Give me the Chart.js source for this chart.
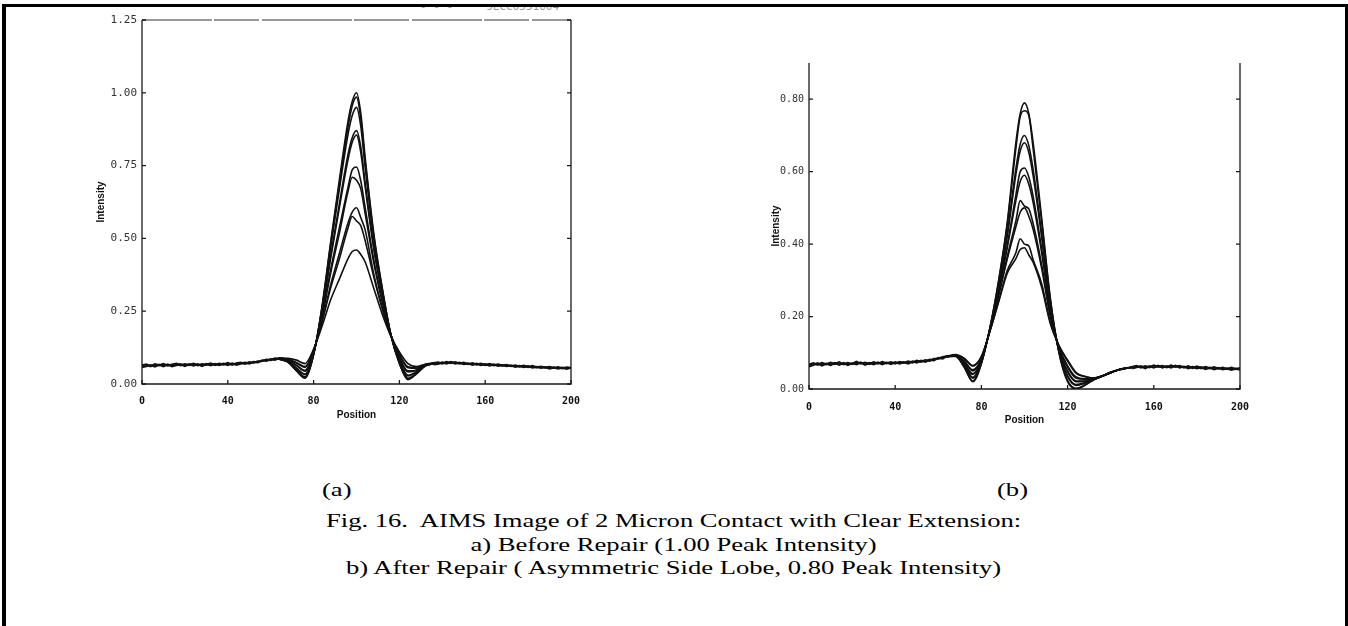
<!DOCTYPE html>
<html>
<head>
<meta charset="utf-8">
<script src="https://cdn.jsdelivr.net/npm/chart.js@4.4.1/dist/chart.umd.min.js"></script>
<style>
  body { margin: 0; background: #fff; width: 1348px; height: 626px; overflow: hidden; position: relative; }
  #frame { position: absolute; left: 2px; top: 4px; width: 1346px; height: 700px; box-sizing: border-box;
           border-top: 3px solid #000; border-left: 4px solid #000; border-right: 3px solid #000; }
  .box { position: absolute; top: 0; }
  .cap { position: absolute; left: 0; width: 1348px; text-align: center; font-family: "Liberation Serif", serif;
         font-size: 19px; line-height: 23px; color: #000; transform: scaleX(1.4); transform-origin: 675px 0; white-space: pre; }
  .lab { position: absolute; font-family: "Liberation Serif", serif; font-size: 19px; line-height: 23px;
         transform: scaleX(1.4); transform-origin: 0 0; }
  #stamp { position: absolute; left: 420px; top: 7px; width: 160px; height: 6px; overflow: hidden; }
  #stamp span { position: absolute; top: -7px; left: 0; font-family: "DejaVu Sans Mono", monospace; font-size: 11px; color: #999; white-space: pre; }
</style>
</head>
<body>
<div id="frame"></div>
<div id="stamp"><span>- - -     9LCC0551004</span></div>
<div class="box" style="left:60px"><canvas id="chartA" width="540" height="430"></canvas></div>
<div class="box" style="left:740px"><canvas id="chartB" width="540" height="430"></canvas></div>
<div class="lab" style="left:322px; top:478px">(a)</div>
<div class="lab" style="left:997px; top:478px">(b)</div>
<div class="cap" style="top:509px">Fig. 16.  AIMS Image of 2 Micron Contact with Clear Extension:</div>
<div class="cap" style="top:533px">a) Before Repair (1.00 Peak Intensity)</div>
<div class="cap" style="top:556px">b) After Repair ( Asymmetric Side Lobe, 0.80 Peak Intensity)</div>

<script>
// ---- chart (a): before repair ----
const flatLeftPos = [0,2,4,6,8,10,12,14,16,18,20,22,24,26,28,30,32,34,36,38,40,42,44,46,48,50,52,54,56,58,60,62,64];
const aLeft1 = [.064,.067,.061,.068,.064,.069,.063,.067,.070,.064,.068,.065,.070,.064,.068,.066,.071,.065,.070,.067,.072,.066,.071,.073,.069,.075,.073,.078,.079,.084,.082,.088,.086];
const aLeft2 = [.058,.061,.065,.060,.066,.061,.067,.061,.065,.068,.062,.068,.063,.068,.062,.069,.064,.069,.065,.070,.065,.071,.066,.070,.073,.070,.076,.074,.081,.079,.085,.083,.089];

const aRightPos = [136,138,140,142,144,146,148,150,152,154,156,158,160,162,164,166,168,170,172,174,176,178,180,182,184,186,188,190,192,194,196,198,200];
const aRight1 = [.072,.074,.070,.076,.072,.075,.070,.073,.068,.072,.067,.070,.065,.069,.064,.067,.063,.066,.061,.064,.060,.063,.058,.062,.057,.060,.056,.059,.055,.058,.054,.057,.055];
const aRight2 = [.067,.069,.074,.070,.076,.070,.073,.068,.071,.066,.070,.065,.068,.063,.067,.062,.065,.061,.064,.059,.062,.058,.061,.056,.059,.055,.058,.053,.057,.053,.056,.052,.056];

const aMidPos = [64,68,72,76,80,84,88,92,96,98,100,102,104,108,112,116,120,124,128,132,136];
const aPeaks = [
  [.085,.075,.045,.020,.100,.270,.490,.700,.900,.970,1.00,.930,.780,.520,.330,.170,.070,.015,.035,.062,.070],
  [.085,.076,.047,.022,.101,.267,.482,.686,.881,.955,.985,.911,.766,.512,.326,.170,.072,.017,.036,.062,.070],
  [.085,.076,.048,.025,.102,.263,.471,.668,.856,.922,.950,.885,.747,.502,.322,.170,.074,.020,.037,.063,.070],
  [.086,.078,.054,.032,.105,.253,.442,.618,.787,.846,.870,.813,.693,.474,.308,.169,.080,.028,.041,.063,.070],
  [.086,.079,.055,.034,.106,.250,.434,.605,.769,.830,.855,.795,.680,.467,.305,.169,.081,.030,.042,.064,.071],
  [.087,.081,.063,.044,.110,.236,.394,.536,.674,.735,.745,.697,.607,.429,.287,.168,.089,.041,.047,.065,.071],
  [.088,.082,.065,.047,.111,.232,.383,.517,.660,.710,.700,.670,.587,.418,.282,.167,.091,.045,.048,.065,.071],
  [.089,.085,.072,.057,.115,.218,.342,.448,.552,.590,.605,.571,.530,.379,.263,.166,.100,.056,.054,.066,.071],
  [.089,.085,.074,.060,.116,.214,.331,.429,.535,.575,.560,.544,.493,.369,.258,.166,.102,.059,.055,.067,.072],
  [.090,.088,.082,.070,.120,.200,.290,.360,.430,.455,.460,.445,.420,.330,.240,.165,.110,.070,.060,.068,.072]
];

// ---- chart (b): after repair ----
const bLeft1 = [.067,.071,.067,.072,.068,.073,.069,.074,.068,.072,.069,.075,.070,.073,.069,.074,.070,.075,.071,.074,.070,.075,.072,.076,.073,.078,.075,.080,.078,.083,.084,.088,.090];
const bLeft2 = [.062,.066,.071,.065,.070,.066,.072,.067,.072,.066,.071,.068,.073,.067,.072,.068,.073,.068,.073,.069,.074,.070,.074,.070,.076,.073,.078,.075,.081,.079,.086,.084,.091];

const bRightPos = [150,152,154,156,158,160,162,164,166,168,170,172,174,176,178,180,182,184,186,188,190,192,194,196,198,200];
const bRight1 = [.061,.064,.059,.063,.060,.065,.061,.064,.060,.065,.061,.064,.059,.063,.058,.062,.057,.061,.057,.060,.056,.059,.055,.059,.055,.058];
const bRight2 = [.057,.060,.063,.057,.063,.059,.064,.059,.063,.059,.064,.059,.062,.057,.061,.057,.060,.055,.059,.054,.058,.054,.057,.053,.056,.053];

const bMidPos = [64,68,72,76,80,84,88,92,96,98,100,102,104,108,112,116,120,124,128,132,136,140,145,150];
const bPeaks = [
  [.090,.092,.060,.020,.070,.170,.300,.460,.680,.760,.790,.760,.680,.470,.250,.100,.020,.000,.010,.025,.035,.045,.055,.060],
  [.090,.090,.061,.022,.071,.170,.297,.453,.664,.752,.768,.755,.664,.460,.247,.101,.023,.002,.011,.025,.035,.045,.055,.060],
  [.090,.091,.066,.030,.074,.168,.287,.429,.608,.676,.700,.672,.606,.427,.234,.105,.034,.010,.016,.026,.035,.046,.054,.060],
  [.089,.091,.067,.032,.075,.167,.284,.422,.592,.657,.680,.653,.589,.418,.231,.106,.037,.012,.017,.026,.036,.045,.055,.059],
  [.090,.092,.071,.040,.079,.166,.273,.397,.536,.600,.610,.585,.532,.385,.219,.109,.047,.020,.021,.027,.036,.046,.055,.060],
  [.089,.092,.072,.042,.080,.165,.270,.390,.520,.573,.590,.565,.515,.375,.215,.110,.050,.022,.022,.027,.035,.045,.055,.060],
  [.090,.093,.077,.050,.083,.163,.260,.366,.464,.520,.505,.497,.457,.342,.203,.113,.060,.030,.027,.028,.036,.046,.055,.060],
  [.090,.093,.078,.053,.084,.163,.257,.359,.448,.488,.500,.477,.441,.332,.199,.115,.064,.033,.028,.029,.036,.046,.055,.060],
  [.091,.094,.084,.063,.089,.160,.243,.327,.376,.415,.400,.395,.357,.290,.184,.119,.077,.043,.034,.030,.036,.045,.055,.060],
  [.090,.095,.085,.065,.090,.160,.240,.320,.360,.385,.390,.370,.350,.280,.180,.120,.080,.045,.035,.030,.035,.045,.056,.060]
];

const yTicksA = [0, 0.25, 0.5, 0.75, 1.0, 1.25];
const yTicksB = [0, 0.2, 0.4, 0.6, 0.8];
const xTicks = [0, 40, 80, 120, 160, 200];

function pts(xs, ys) { return xs.map((x, i) => ({ x: x, y: ys[i] })); }

function noisy(xs, ys) {
  return { data: pts(xs, ys), borderColor: '#111', borderWidth: 2.2, pointRadius: 0, tension: 0, fill: false };
}
function smooth(xs, ys) {
  return { data: pts(xs, ys), borderColor: '#111', borderWidth: 1.6, pointRadius: 0, cubicInterpolationMode: 'monotone', fill: false };
}

// frame + inward tick marks
const framePlugin = {
  id: 'frame',
  afterDatasetsDraw(chart, args, opts) {
    const { ctx, chartArea: a, scales: { x, y } } = chart;
    ctx.save();
    ctx.strokeStyle = '#1a1a1a';
    ctx.lineWidth = 1.3;
    ctx.beginPath();
    ctx.moveTo(a.left, a.top); ctx.lineTo(a.left, a.bottom);
    ctx.lineTo(a.right, a.bottom); ctx.lineTo(a.right, a.top);
    ctx.stroke();
    if (opts.top) {
      // scanned top edge: slightly fainter, a few breaks
      ctx.strokeStyle = '#333';
      ctx.lineWidth = 1.2;
      ctx.setLineDash([70, 2, 45, 3, 90, 2, 55, 3]);
      ctx.beginPath();
      ctx.moveTo(a.left, a.top); ctx.lineTo(a.right, a.top);
      ctx.stroke();
      ctx.setLineDash([]);
    }
    ctx.strokeStyle = '#1a1a1a';
    ctx.lineWidth = 1.3;
    ctx.beginPath();
    x.ticks.forEach(t => { const px = x.getPixelForValue(t.value); ctx.moveTo(px, a.bottom); ctx.lineTo(px, a.bottom - 4); });
    y.ticks.forEach(t => {
      const py = y.getPixelForValue(t.value);
      ctx.moveTo(a.left, py); ctx.lineTo(a.left + 4, py);
      ctx.moveTo(a.right, py); ctx.lineTo(a.right - 4, py);
    });
    ctx.stroke();
    ctx.restore();
  }
};

function makeChart(id, o) {
  const datasets = [
    noisy(flatLeftPos, o.left1), noisy(flatLeftPos, o.left2),
    noisy(o.rightPos, o.right1), noisy(o.rightPos, o.right2)
  ].concat(o.peaks.map(p => smooth(o.midPos, p)));

  return new Chart(document.getElementById(id), {
    type: 'line',
    data: { datasets: datasets },
    options: {
      responsive: false,
      animation: false,
      events: [],
      layout: { padding: { top: o.padTop, right: o.padRight, left: 0, bottom: 0 } },
      plugins: { legend: { display: false }, tooltip: { enabled: false }, frame: { top: o.topLine } },
      scales: {
        x: {
          type: 'linear', min: 0, max: 200,
          grid: { display: false, drawTicks: false }, border: { display: false },
          afterBuildTicks: s => { s.ticks = xTicks.map(v => ({ value: v })); },
          ticks: { autoSkip: false, maxRotation: 0, padding: o.xPad, color: '#111',
                   font: { family: 'DejaVu Sans Mono', size: 10, weight: 'bold' } },
          title: { display: true, text: 'Position', color: '#111',
                   font: { family: 'Liberation Sans', size: 10, weight: 'bold' },
                   padding: { top: 0, bottom: o.xTitlePad } },
          afterFit: s => { s.height = o.xHeight; }
        },
        y: {
          min: 0, max: o.yMax,
          grid: { display: false, drawTicks: false }, border: { display: false },
          afterBuildTicks: s => { s.ticks = o.yTicks.map(v => ({ value: v })); },
          ticks: { padding: 5, color: '#333', callback: v => v.toFixed(2),
                   font: { family: 'DejaVu Sans Mono', size: o.yFont } },
          title: { display: true, text: 'Intensity', color: '#111',
                   font: { family: 'Liberation Sans', size: 10, weight: 'bold' },
                   padding: { top: o.yTitlePad, bottom: 0 } },
          afterFit: s => { s.width = o.yWidth; }
        }
      }
    },
    plugins: [framePlugin]
  });
}

makeChart('chartA', {
  left1: aLeft1, left2: aLeft2, rightPos: aRightPos, right1: aRight1, right2: aRight2,
  midPos: aMidPos, peaks: aPeaks, yMax: 1.25, yTicks: yTicksA, topLine: true,
  padTop: 20, padRight: 29, xHeight: 46, yWidth: 82, xPad: 11, xTitlePad: 9, yTitlePad: 35, yFont: 11
});

makeChart('chartB', {
  left1: bLeft1, left2: bLeft2, rightPos: bRightPos, right1: bRight1, right2: bRight2,
  midPos: bMidPos, peaks: bPeaks, yMax: 0.9, yTicks: yTicksB, topLine: false,
  padTop: 63, padRight: 40, xHeight: 41, yWidth: 69, xPad: 12, xTitlePad: 4, yTitlePad: 30, yFont: 10
});
</script>
</body>
</html>
